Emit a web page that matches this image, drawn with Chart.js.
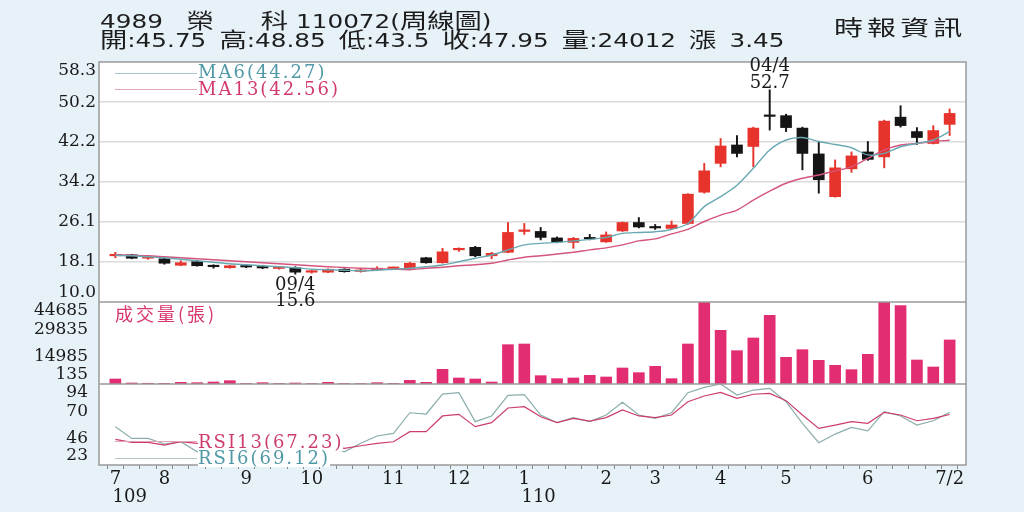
<!DOCTYPE html>
<html lang="zh-Hant">
<head>
    <meta charset="UTF-8">
    <title>4989 榮科 周線圖</title>
    <script src="https://cdn.jsdelivr.net/npm/chart.js"></script>
    <style>
        html, body { margin: 0; padding: 0; }
        body {
            width: 1024px;
            height: 512px;
            background-color: #e7f2f8;
            position: relative;
            overflow: hidden;
        }
        #box { position: absolute; left: 0; top: 0; width: 1024px; height: 512px; }
        .txt { position: absolute; white-space: pre; transform-origin: 0 0; }
        .hdr { left: 100px; font: 19px/19px "DejaVu Sans", "Noto Sans CJK TC", sans-serif; color: #1d1d1d; transform: scaleX(1.3); }
        .hdr .cj { font-size: 21px; }
        .brand { left: 834px; top: 16px; font: 21px/21px "Noto Sans CJK TC", sans-serif; color: #1d1d1d; letter-spacing: 3px; transform: scaleX(1.38); }
        .leg { font: 18px/18px "DejaVu Serif", serif; letter-spacing: 2px; background: #fff; }
        .legline { position: absolute; left: 115px; width: 82px; height: 0; }
    </style>
</head>
<body>
<div id="box"><canvas id="kline"></canvas></div>

<div class="txt hdr" style="top:12px">4989   <span class="cj">榮</span>      <span class="cj">科</span> 110072(<span class="cj">周線圖</span>)</div>
<div class="txt hdr" style="top:31px; word-spacing:4px"><span class="cj">開</span>:45.75 <span class="cj">高</span>:48.85 <span class="cj">低</span>:43.5 <span class="cj">收</span>:47.95 <span class="cj">量</span>:24012 <span class="cj">漲</span> 3.45</div>
<div class="txt brand">時報資訊</div>

<div class="legline" style="top:73px; border-top:1px solid #a9c6cc"></div>
<div class="legline" style="top:89px; border-top:1px solid #e3a3b8"></div>
<div class="txt leg" style="left:198px; top:63px; color:#4f98a6">MA6(44.27)</div>
<div class="txt leg" style="left:198px; top:80px; color:#d23a6b">MA13(42.56)</div>

<div class="txt" style="left:115px; top:304px; font:18px/18px 'Noto Sans CJK TC', sans-serif; letter-spacing:3px; color:#d8356d">成交量(張)</div>

<div class="legline" style="top:441px; border-top:1px solid #e3a3b8"></div>
<div class="legline" style="top:458px; border-top:1px solid #b7c9c9"></div>
<div class="txt leg" style="left:198px; top:433px; color:#cc3d6e">RSI13(67.23)</div>
<div class="txt leg" style="left:198px; top:449px; color:#4f98a6">RSI6(69.12)</div>

<script>
    // weekly bars, 109/7 .. 110/7/2
    const weeks = [0, 1, 2, 3, 4, 5, 6, 7, 8, 9, 10, 11, 12, 13, 14, 15, 16, 17, 18, 19, 20, 21, 22, 23, 24, 25,
        26, 27, 28, 29, 30, 31, 32, 33, 34, 35, 36, 37, 38, 39, 40, 41, 42, 43, 44, 45, 46, 47, 48, 49, 50, 51];
    const monthPos = [0, 3, 8, 12, 17, 21, 25, 30, 33, 37, 41, 46, 51];
    const monthText = [['7', '     109'], '8', '9', '10', '11', '12', ['1', '     110'], '2', '3', '4', '5', '6', '7/2'];

    const opens = [19.3, 19.5, 18.8, 18.7, 17.4, 18.1, 17.15, 16.9, 17.2, 17.1, 16.75, 16.9, 16.0, 16.0, 16.6, 16.15,
        16.5, 16.75, 16.8, 18.9, 17.9, 20.5, 21.0, 19.3, 20.0, 24.2, 24.2, 22.9, 22.0, 23.0, 22.1, 24.3, 26.0, 25.2,
        24.8, 25.8, 32.1, 37.9, 41.6, 41.3, 47.5, 47.5, 45.0, 39.8, 31.2, 36.8, 40.2, 39.2, 47.2, 44.3, 41.9, 45.75];
    const highs = [20.0, 19.6, 19.2, 18.8, 18.3, 18.3, 17.5, 17.4, 17.5, 17.4, 17.0, 17.1, 16.3, 16.7, 16.7, 16.6,
        17.1, 17.0, 18.0, 19.0, 20.8, 20.9, 21.2, 20.0, 26.0, 25.8, 25.0, 23.1, 23.0, 23.6, 24.1, 26.1, 27.0, 25.6,
        26.3, 31.8, 37.9, 42.9, 43.5, 45.2, 52.7, 47.8, 45.2, 42.3, 38.6, 40.2, 42.3, 46.6, 49.5, 45.1, 45.5, 48.85];
    const lows = [18.9, 18.7, 18.6, 17.6, 17.3, 17.2, 16.8, 16.8, 16.9, 16.7, 16.6, 15.6, 15.8, 15.9, 16.0, 16.0,
        16.3, 16.6, 16.7, 17.8, 17.8, 20.2, 19.1, 18.7, 19.9, 23.6, 22.5, 21.9, 20.8, 22.5, 22.0, 24.2, 24.9, 24.6,
        24.6, 25.6, 31.9, 37.2, 39.2, 37.2, 44.6, 44.3, 36.6, 31.9, 31.1, 36.1, 38.5, 37.0, 45.2, 41.7, 41.8, 43.5];
    const closes = [19.4, 18.8, 18.9, 17.8, 17.9, 17.3, 17.1, 17.3, 17.05, 16.85, 16.8, 16.0, 16.05, 16.6, 16.1, 16.4,
        16.75, 16.8, 17.8, 17.9, 20.1, 20.65, 19.3, 19.8, 24.0, 24.4, 23.0, 22.1, 22.8, 22.7, 23.5, 26.0, 25.1, 24.9,
        25.5, 31.7, 36.4, 41.4, 39.9, 45.0, 47.35, 45.1, 39.9, 34.6, 37.0, 39.4, 38.7, 46.4, 45.5, 43.1, 44.5, 47.95];

    const ma6 = [19.4, 19.3, 19.1, 18.9, 18.6, 18.3, 18.0, 17.7, 17.5, 17.3, 17.1, 16.9, 16.6, 16.5, 16.4, 16.3,
        16.4, 16.6, 16.8, 17.1, 17.45, 18.1, 18.8, 19.45, 20.5, 21.5, 21.8, 22.0, 22.3, 22.6, 23.0, 23.8, 24.0, 24.15,
        24.6, 25.8, 29.2, 31.2, 33.5, 36.9, 40.6, 42.6, 43.1, 42.3, 41.7, 41.05, 39.6, 39.9, 41.25, 41.9, 42.6, 44.27];
    const ma13 = [19.5, 19.4, 19.3, 19.1, 18.9, 18.7, 18.5, 18.3, 18.1, 17.9, 17.7, 17.5, 17.3, 17.1, 16.95, 16.8,
        16.7, 16.6, 16.5, 16.8, 17.0, 17.3, 17.5, 17.8, 18.45, 19.0, 19.3, 19.65, 20.0, 20.5, 20.9, 21.5, 22.3, 22.7,
        23.7, 24.6, 26.2, 27.5, 28.5, 30.5, 32.3, 33.9, 34.9, 35.55, 36.4, 37.2, 38.9, 40.6, 41.6, 41.9, 42.3, 42.56];

    const volumes = [2725, 545, 400, 350, 908, 727, 1090, 1816, 300, 727, 300, 545, 250, 908, 300, 250, 727, 350,
        2000, 908, 7993, 3270, 2725, 1090, 21434, 21797, 4541, 2906, 3270, 4723, 3815, 8719, 6176, 9627, 2906, 21797,
        44685, 29245, 18165, 25067, 37419, 14532, 18710, 12897, 10172, 7811, 16167, 44685, 42687, 13079, 9264, 24012];

    const rsi13 = [45.5, 42.8, 42.8, 40.5, 43.4, 42.0, 41.0, 43.0, 41.0, 40.0, 40.0, 36.0, 36.0, 40.0, 37.6, 39.9,
        42.0, 43.4, 52.2, 52.2, 66.0, 67.4, 56.6, 60.1, 73.0, 74.1, 65.3, 60.1, 63.9, 61.5, 64.5, 71.2, 66.0, 64.5,
        66.8, 78.5, 83.5, 86.7, 81.4, 85.0, 85.8, 79.4, 66.8, 55.1, 58.0, 61.0, 59.5, 69.2, 66.8, 61.8, 63.9, 67.23];
    const rsi6 = [56.6, 46.3, 46.3, 41.4, 43.4, 34.6, 38.0, 42.0, 38.0, 36.0, 36.0, 29.0, 30.0, 40.0, 34.6, 42.0,
        48.4, 50.7, 68.8, 67.7, 85.2, 86.4, 61.0, 66.0, 84.0, 84.6, 66.8, 60.1, 64.5, 61.0, 66.8, 77.9, 66.8, 63.9,
        68.8, 86.4, 91.1, 94.0, 84.3, 88.7, 90.2, 78.5, 59.5, 42.5, 50.1, 56.0, 53.0, 69.7, 66.0, 58.0, 61.8, 69.12];

    const priceTicks = [10.0, 18.1, 26.1, 34.2, 42.2, 50.2, 58.3];
    const volTicks = [135, 14985, 29835, 44685];
    const rsiTicks = [23, 46, 70, 94];
    const hiLabel = '04/4';
    const loLabel = '09/4';

    const UP = '#e6332b', DOWN = '#151515';
    const candleColors = opens.map((o, i) => closes[i] >= o ? UP : DOWN);

    // the edge labels sit a little inside their pane, like the original
    const PANE = { price: 240, vol: 82, rsi: 81 };
    function tickSet(values, min, max, px) {
        const inset = (max - min) * 9 / px;
        return values.map((v, i) => ({
            value: i === 0 ? v + inset : (i === values.length - 1 ? v - inset : v)
        }));
    }

    const tickFont = { family: 'DejaVu Serif', size: 17 };

    const panes = {
        id: 'panes',
        beforeDraw(chart) {
            const { ctx, chartArea: a } = chart;
            ctx.save();
            ctx.fillStyle = '#ffffff';
            ctx.fillRect(a.left, a.top, a.right - a.left, a.bottom - a.top);
            ctx.restore();
        },
        afterDraw(chart) {
            const { ctx, chartArea: a, scales } = chart;
            ctx.save();
            ctx.strokeStyle = '#9a9a9a';
            ctx.lineWidth = 1.5;
            ctx.strokeRect(a.left, a.top, a.right - a.left, a.bottom - a.top);
            [scales.yVol.top, scales.yRsi.top].forEach(y => {
                ctx.beginPath();
                ctx.moveTo(a.left, y);
                ctx.lineTo(a.right, y);
                ctx.stroke();
            });

            // highest / lowest marks
            const hi = Math.max(...highs), lo = Math.min(...lows);
            const hx = scales.x.getPixelForValue(weeks[highs.indexOf(hi)]);
            const hy = scales.yPrice.getPixelForValue(hi);
            const lx = scales.x.getPixelForValue(weeks[lows.indexOf(lo)]);
            const ly = scales.yPrice.getPixelForValue(lo);
            ctx.fillStyle = '#1a1a1a';
            ctx.font = '18px "DejaVu Serif"';
            ctx.textAlign = 'center';
            ctx.textBaseline = 'alphabetic';
            ctx.fillText(hiLabel, hx, hy - 19);
            ctx.fillText(hi.toFixed(1), hx, hy - 2);
            ctx.fillText(loLabel, lx, ly + 16);
            ctx.fillText(lo.toFixed(1), lx, ly + 32);
            ctx.restore();
        }
    };

    new Chart(document.getElementById('kline'), {
        type: 'bar',
        data: {
            labels: weeks,
            datasets: [
                { type: 'line', data: ma6, yAxisID: 'yPrice', borderColor: '#6aa8b3', borderWidth: 1.4,
                  pointRadius: 0, tension: 0.3, order: 0 },
                { type: 'line', data: ma13, yAxisID: 'yPrice', borderColor: '#d4557d', borderWidth: 1.4,
                  pointRadius: 0, tension: 0.3, order: 0 },
                { data: opens.map((o, i) => [o, closes[i]]), yAxisID: 'yPrice', backgroundColor: candleColors,
                  barThickness: 11, minBarLength: 1.5, grouped: false, order: 1 },
                { data: lows.map((l, i) => [l, highs[i]]), yAxisID: 'yPrice', backgroundColor: candleColors,
                  barThickness: 1.3, grouped: false, order: 2 },
                { data: volumes, yAxisID: 'yVol', backgroundColor: '#e22d73', barThickness: 11, grouped: false, order: 1 },
                { type: 'line', data: rsi13, yAxisID: 'yRsi', borderColor: '#cc3d6e', borderWidth: 1.2,
                  pointRadius: 0, tension: 0, order: 0 },
                { type: 'line', data: rsi6, yAxisID: 'yRsi', borderColor: '#8aaeac', borderWidth: 1.2,
                  pointRadius: 0, tension: 0, order: 0 }
            ]
        },
        options: {
            responsive: true,
            maintainAspectRatio: false,
            animation: false,
            events: [],
            layout: { padding: { top: 62, right: 58, left: 0, bottom: 0 } },
            plugins: { legend: { display: false }, tooltip: { enabled: false } },
            scales: {
                x: {
                    type: 'linear', min: -1, max: 52, offset: false,
                    border: { display: false },
                    grid: { drawOnChartArea: false, drawTicks: true, tickLength: 4, color: '#888' },
                    afterBuildTicks: s => { s.ticks = weeks.map(v => ({ value: v })); },
                    afterFit: s => { s.height = 47; },
                    ticks: {
                        autoSkip: false, maxRotation: 0, padding: 1, color: '#1a1a1a',
                        font: { family: 'DejaVu Serif', size: 18, lineHeight: 1 },
                        callback: v => { const k = monthPos.indexOf(v); return k < 0 ? '' : monthText[k]; }
                    }
                },
                yPrice: {
                    type: 'linear', position: 'left', stack: 'panes', stackWeight: PANE.price, weight: 3,
                    min: 10, max: 58.3,
                    border: { display: false },
                    grid: { drawTicks: false, lineWidth: 1.5,
                            color: c => (c.index === 0 || c.index === priceTicks.length - 1) ? 'rgba(0,0,0,0)' : '#dcdcdc' },
                    afterBuildTicks: s => { s.ticks = tickSet(priceTicks, 10, 58.3, PANE.price); },
                    afterFit: s => { s.width = 99; },
                    ticks: { autoSkip: false, padding: 3, color: '#1a1a1a', font: tickFont,
                             callback: (v, i) => priceTicks[i].toFixed(1) }
                },
                yVol: {
                    type: 'linear', position: 'left', stack: 'panes', stackWeight: PANE.vol, weight: 2,
                    min: 0, max: 44685,
                    border: { display: false },
                    grid: { display: false },
                    afterBuildTicks: s => { s.ticks = tickSet(volTicks, 0, 44685, PANE.vol); },
                    afterFit: s => { s.width = 99; },
                    ticks: { autoSkip: false, padding: 3, color: '#1a1a1a', font: tickFont,
                             callback: (v, i) => String(volTicks[i]) }
                },
                yRsi: {
                    type: 'linear', position: 'left', stack: 'panes', stackWeight: PANE.rsi, weight: 1,
                    min: 23, max: 94,
                    border: { display: false },
                    grid: { display: false },
                    afterBuildTicks: s => { s.ticks = tickSet(rsiTicks, 23, 94, PANE.rsi); },
                    afterFit: s => { s.width = 99; },
                    ticks: { autoSkip: false, padding: 3, color: '#1a1a1a', font: tickFont,
                             callback: (v, i) => String(rsiTicks[i]) }
                }
            }
        },
        plugins: [panes]
    });
</script>
</body>
</html>
